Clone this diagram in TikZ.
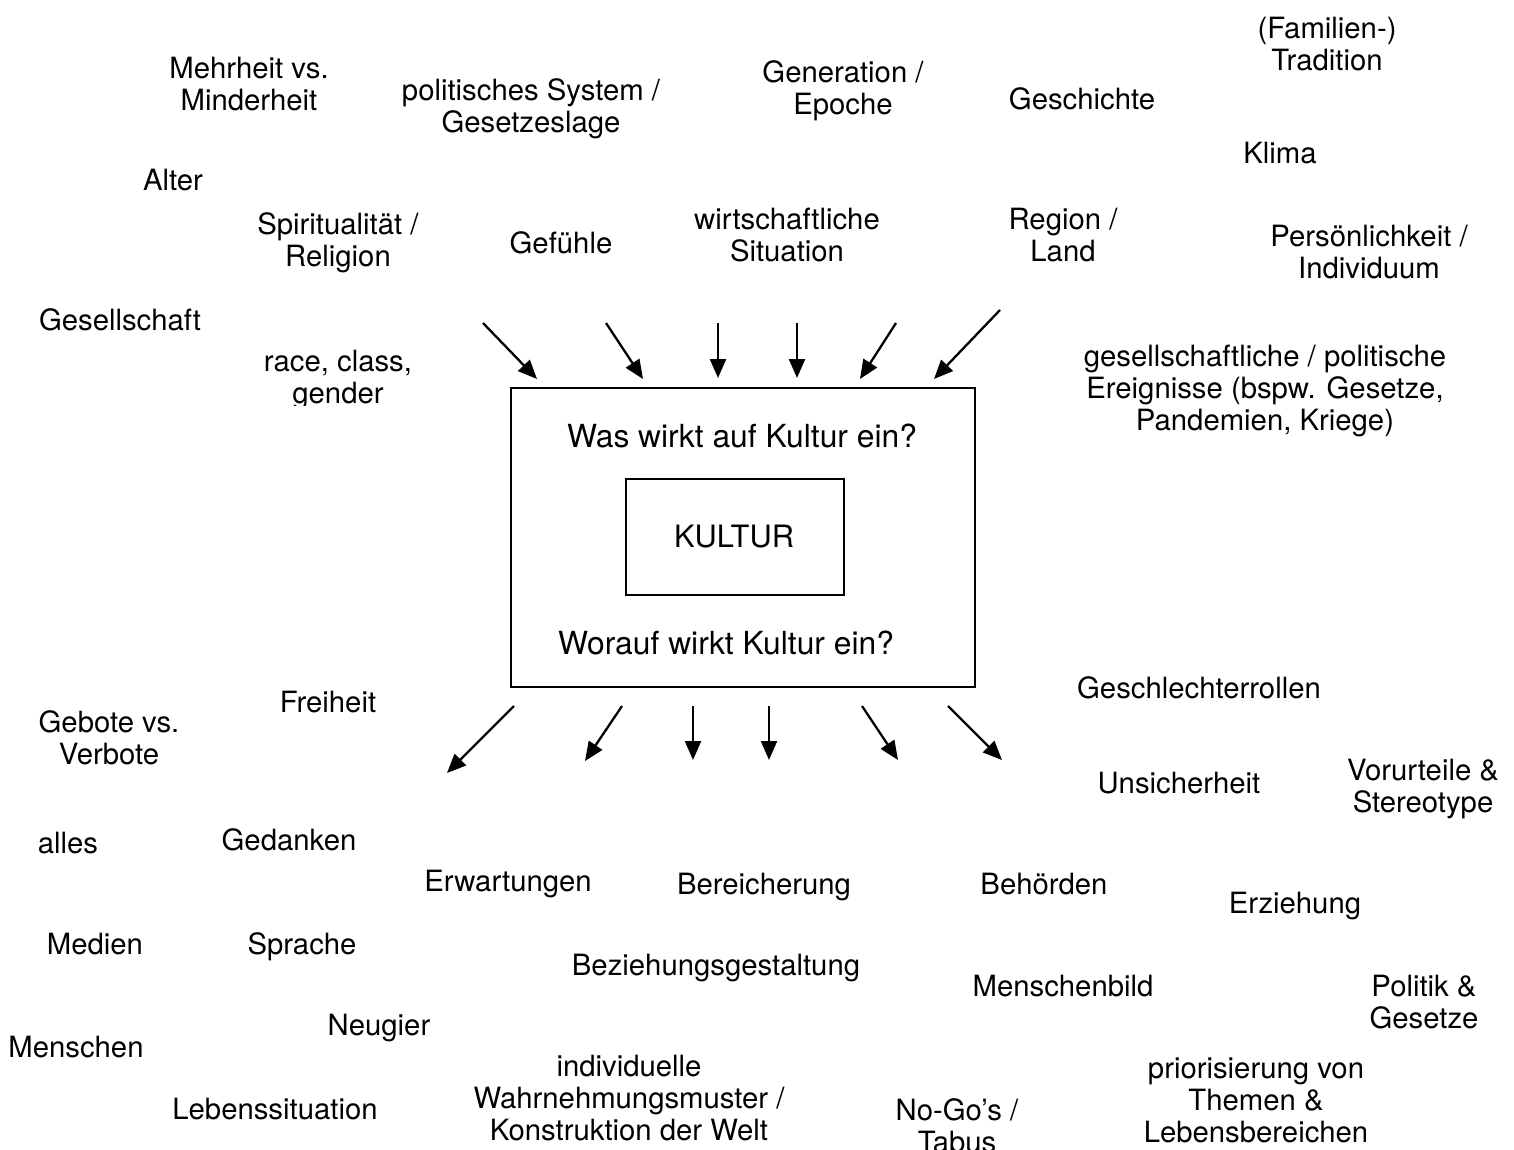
\documentclass[tikz,border=0pt]{standalone}
\usepackage{fontspec}
\setmainfont{TeX Gyre Heros}
\usetikzlibrary{arrows.meta}
\newcommand{\lblfont}{\fontsize{29.3}{32}\selectfont}
\newcommand{\boxfont}{\fontsize{31.8}{34}\selectfont}
\newcommand{\kulfont}{\fontsize{30.8}{33}\selectfont}
\tikzset{
  lbl/.style={font=\lblfont, align=center, inner sep=0pt},
  bxt/.style={font=\boxfont, inner sep=0pt},
  arr/.style={line width=2.3pt, -{Triangle[length=19pt,width=16pt]}},
  frame/.style={draw, line width=2pt, inner sep=0pt}
}
\begin{document}
\begin{tikzpicture}[x=1pt,y=-1pt]
\useasboundingbox[fill=white] (0,0) rectangle (1514,1149);
% boxes
\node[frame, minimum width=464pt, minimum height=299pt] (outer) at (742.5,537) {};
\node[frame, minimum width=218pt, minimum height=116pt] (inner) at (735,537) {};
\node[bxt] (q1) at (742,436) {Was wirkt auf Kultur ein?};
\node[bxt, font=\kulfont] (kultur) at (734,537) {KULTUR};
\node[bxt] (q2) at (726,643) {Worauf wirkt Kultur ein?};
% top labels
\node[lbl] (mehr) at (249,84) {Mehrheit vs.\\Minderheit};
\node[lbl] (polsys) at (531,109) {politisches System /\\Gesetzeslage};
\node[lbl] (gen) at (843,91) {Generation /\\Epoche};
\node[lbl] (gesch) at (1082,99) {Geschichte};
\node[lbl] (trad) at (1327,44) {(Familien-)\\Tradition};
\node[lbl] (klima) at (1280,153) {Klima};
\node[lbl] (alter) at (173,180) {Alter};
\node[lbl] (spir) at (338,243) {Spiritualität /\\Religion};
\node[lbl] (gef) at (561,243) {Gefühle};
\node[lbl] (wirt) at (787,235) {wirtschaftliche\\Situation};
\node[lbl] (region) at (1063,235) {Region /\\Land};
\node[lbl] (pers) at (1369,252) {Persönlichkeit /\\Individuum};
\node[lbl] (gesell) at (120,320) {Gesellschaft};
\begin{scope}
\clip (240,330) rectangle (440,405);
\node[lbl] (rcg) at (338,380) {race, class,\\gender};
\end{scope}
\node[lbl] (ereig) at (1265,391) {gesellschaftliche / politische\\Ereignisse (bspw. Gesetze,\\Pandemien, Kriege)};
% bottom labels
\node[lbl] (frei) at (328,702) {Freiheit};
\node[lbl] (gebote) at (109,738) {Gebote vs.\\Verbote};
\node[lbl] (geschl) at (1199,688) {Geschlechterrollen};
\node[lbl] (unsich) at (1179,783) {Unsicherheit};
\node[lbl] (vorurt) at (1423,789) {Vorurteile \&\\Stereotype};
\node[lbl] (alles) at (68,843) {alles};
\node[lbl] (gedank) at (289,840) {Gedanken};
\node[lbl] (erwart) at (508,884) {Erwartungen};
\node[lbl] (bereich) at (764,887) {Bereicherung};
\node[lbl] (behoerd) at (1044,884) {Behörden};
\node[lbl] (erzieh) at (1295,906) {Erziehung};
\node[lbl] (medien) at (95,944) {Medien};
\node[lbl] (sprache) at (302,947) {Sprache};
\node[lbl] (bezieh) at (716,968) {Beziehungsgestaltung};
\node[lbl] (menschb) at (1063,986) {Menschenbild};
\node[lbl] (politik) at (1424,1002) {Politik \&\\Gesetze};
\node[lbl] (neugier) at (379,1028) {Neugier};
\node[lbl] (menschen) at (76,1047) {Menschen};
\node[lbl] (indiv) at (629,1098) {individuelle\\Wahrnehmungsmuster /\\Konstruktion der Welt};
\node[lbl] (lebens) at (275,1109) {Lebenssituation};
\node[lbl] (nogo) at (957,1126) {No-Go’s /\\Tabus};
\node[lbl] (prior) at (1256,1100) {priorisierung von\\Themen \&\\Lebensbereichen};
% arrow coordinates (top, pointing into box)
\coordinate (t1s) at (483,323); \coordinate (t1e) at (537,379);
\coordinate (t2s) at (606,323); \coordinate (t2e) at (643,379);
\coordinate (t3s) at (718,323); \coordinate (t3e) at (718,378);
\coordinate (t4s) at (797,323); \coordinate (t4e) at (797,378);
\coordinate (t5s) at (896,323); \coordinate (t5e) at (860,379);
\coordinate (t6s) at (1000,310); \coordinate (t6e) at (934,379);
% bottom arrows (pointing away)
\coordinate (b1s) at (514,706); \coordinate (b1e) at (447,773);
\coordinate (b2s) at (622,706); \coordinate (b2e) at (585,761);
\coordinate (b3s) at (693,706); \coordinate (b3e) at (693,760);
\coordinate (b4s) at (769,706); \coordinate (b4e) at (769,760);
\coordinate (b5s) at (862,706); \coordinate (b5e) at (898,760);
\coordinate (b6s) at (948,706); \coordinate (b6e) at (1002,760);
\foreach \i in {1,...,6}{
  \draw[arr] (t\i s) -- (t\i e);
  \draw[arr] (b\i s) -- (b\i e);
}
\end{tikzpicture}
\end{document}
